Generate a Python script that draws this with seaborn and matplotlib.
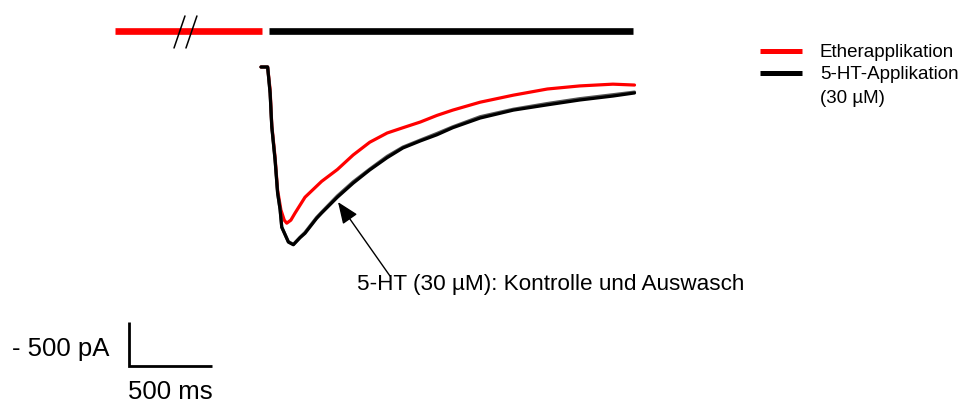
import numpy as np
import pandas as pd
import seaborn as sns
import matplotlib.pyplot as plt

# Whole-cell currents (time in ms after 5-HT onset, current in pA)
t_ether = [0, 40, 55, 65, 85, 100, 120, 140, 155, 180, 205, 265, 365, 460, 555,
           655, 760, 855, 960, 1060, 1155, 1320, 1520, 1725, 1920, 2120, 2250]
i_ether = [0, 0, -260, -660, -1030, -1400, -1625, -1740, -1775, -1740, -1660,
           -1480, -1300, -1165, -1000, -855, -750, -690, -625, -550, -490, -400,
           -320, -250, -215, -195, -205]

t_control = [0, 40, 55, 65, 85, 100, 115, 125, 165, 195, 235, 265, 335, 365, 460,
             555, 655, 760, 855, 960, 1060, 1155, 1320, 1520, 1725, 1920, 2120, 2250]
i_control = [0, 0, -300, -680, -1060, -1430, -1620, -1820, -1990, -2020, -1940,
             -1890, -1720, -1660, -1480, -1320, -1170, -1030, -920, -840, -770,
             -690, -580, -490, -430, -375, -330, -295]

t_washout = [0, 40, 55, 65, 85, 100, 115, 125, 165, 195, 235, 265, 335, 365, 460,
             555, 655, 760, 855, 960, 1060, 1155, 1320, 1520, 1725, 1920, 2120, 2250]
i_washout = [0, 0, -300, -680, -1060, -1430, -1620, -1820, -1985, -2015, -1935,
             -1880, -1710, -1650, -1465, -1305, -1160, -1015, -910, -830, -755,
             -680, -565, -480, -415, -360, -315, -285]

trace_names = ["Ether", "Auswasch", "Kontrolle"]
trace_colors = ["#ff0000", "#555555", "#000000"]

# Application periods (ms)
ether_bar = [-880, 5]
ht_bar = [48, 2241]

# Scale bars
scale_t = 500
scale_i = 500

legend_labels = ["Etherapplikation", "5-HT-Applikation", "(30 µM)"]
arrow_label = "5-HT (30 µM): Kontrolle und Auswasch"

df = pd.concat([
    pd.DataFrame({"t": t_ether, "I": i_ether, "trace": "Ether"}),
    pd.DataFrame({"t": t_washout, "I": i_washout, "trace": "Auswasch"}),
    pd.DataFrame({"t": t_control, "I": i_control, "trace": "Kontrolle"}),
], ignore_index=True)

sns.set_theme(style="white")
plt.rcParams["font.family"] = ["Liberation Sans", "DejaVu Sans"]
plt.rcParams["text.color"] = "black"

fig = plt.figure(figsize=(9.66, 4.03), dpi=100)
ax = fig.add_axes([0, 0, 1, 1])

sns.lineplot(data=df, x="t", y="I", hue="trace", hue_order=trace_names,
             palette=dict(zip(trace_names, trace_colors)), estimator=None,
             sort=False, legend=False, linewidth=2.3, ax=ax)

# Application bars and break marks
bar_y = 409
ax.plot(ether_bar, [bar_y, bar_y], color="#ff0000", lw=4.8, solid_capstyle="butt")
ax.plot(ht_bar, [bar_y, bar_y], color="#000000", lw=4.8, solid_capstyle="butt")
for dx in (0, 72):
    ax.plot([-458 + dx, -524 + dx], [580, 216], color="black", lw=1.1)

# Legend
ax.plot([3006, 3259], [182, 182], color="#ff0000", lw=3.6, solid_capstyle="butt")
ax.plot([3006, 3259], [-68, -68], color="#000000", lw=3.6, solid_capstyle="butt")
ax.text(3367, 160, legend_labels[0], fontsize=13.5, va="center", ha="left")
ax.text(3367, -80, legend_labels[1], fontsize=13.5, va="center", ha="left")
ax.text(3367, -360, legend_labels[2], fontsize=13.5, va="center", ha="left")

# Arrow annotation
ax.annotate("", xy=(464, -1535), xytext=(777, -2375),
            arrowprops=dict(arrowstyle="-|>,head_length=1.1,head_width=0.45",
                            color="black", lw=1.0, shrinkA=0, shrinkB=0))
ax.text(578, -2534, arrow_label, fontsize=16.2, ha="left", va="baseline")

# Scale bars
sx0, sy0 = -795, -3398
ax.plot([sx0, sx0, sx0 + scale_t], [sy0 + scale_i, sy0, sy0],
        color="black", lw=2.0, solid_capstyle="butt", solid_joinstyle="miter")
ax.text(-1500, -3284, f"- {scale_i} pA", fontsize=18.5, ha="left", va="baseline")
ax.text(-801, -3778, f"{scale_t} ms", fontsize=18.5, ha="left", va="baseline")

ax.set_xlim(-1572.3, 4247.0)
ax.set_ylim(-3818.2, 761.4)
ax.axis("off")

fig.savefig("out.png", dpi=100, facecolor="white")
